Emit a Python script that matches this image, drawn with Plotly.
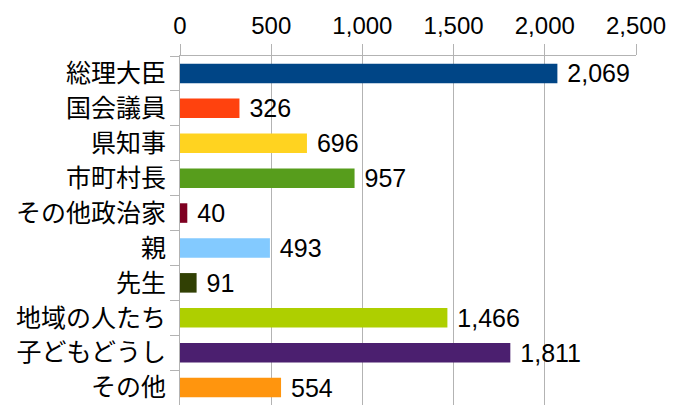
import plotly.graph_objects as go

categories = ["総理大臣", "国会議員", "県知事", "市町村長", "その他政治家", "親", "先生", "地域の人たち", "子どもどうし", "その他"]
values = [2069, 326, 696, 957, 40, 493, 91, 1466, 1811, 554]
colors = ["#004586", "#ff420e", "#ffd320", "#579d1c", "#7e0021", "#83caff", "#314004", "#aecf00", "#4b1f6f", "#ff950e"]
tick_vals = [0, 500, 1000, 1500, 2000, 2500]
tick_text = ["0", "500", "1,000", "1,500", "2,000", "2,500"]

fig = go.Figure(go.Bar(
    y=categories, x=values, orientation="h",
    marker=dict(color=colors, line=dict(width=0)),
    text=[f"\u00a0{v:,}" for v in values], textposition="outside",
    textfont=dict(family="Liberation Sans, Arial", size=25, color="black"),
    constraintext="none",
    cliponaxis=False,
))

fig.update_layout(
    width=678, height=405,
    margin=dict(l=180, r=42, t=56, b=0),
    paper_bgcolor="white", plot_bgcolor="white",
    bargap=0.44, showlegend=False,
    font=dict(family="Liberation Sans, Arial", size=24, color="black"),
)
fig.update_xaxes(
    side="top", range=[0, 2500], tickvals=tick_vals, ticktext=tick_text,
    showgrid=True, gridcolor="#b3b3b3", gridwidth=1,
    showline=True, linecolor="#b3b3b3", linewidth=1,
    ticks="outside", ticklen=11, tickcolor="#b3b3b3",
    zeroline=False, mirror=False,
    tickfont=dict(family="Liberation Sans, Arial", size=24, color="black"),
)
fig.update_yaxes(
    autorange="reversed", type="category",
    showline=True, linecolor="#b3b3b3", linewidth=1,
    ticks="outside", ticklen=9, tickcolor="#b3b3b3", tickson="boundaries",
    showgrid=False, ticklabelstandoff=8,
    tickfont=dict(family="Noto Sans CJK JP", size=25, color="black"),
)

fig.write_html("out.html")
